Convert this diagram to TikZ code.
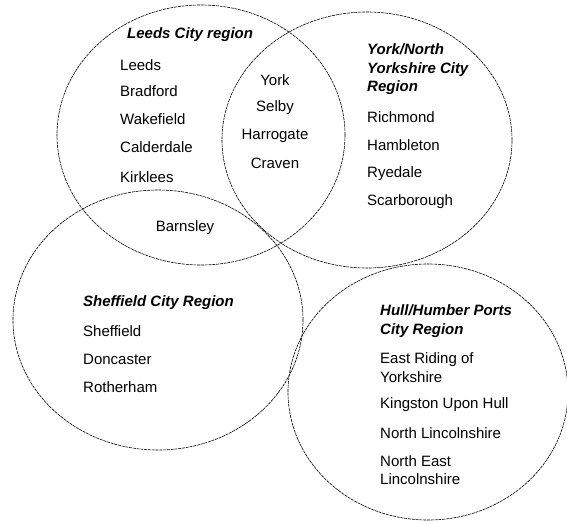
\documentclass[tikz,border=0pt]{standalone}
\usepackage{fontspec}
\setmainfont{Liberation Sans}
\usetikzlibrary{shapes.geometric}

\begin{document}
\begin{tikzpicture}[x=1pt,y=-1pt,
  region/.style={ellipse, draw, line width=0.6pt, dash pattern=on 3pt off 0.8pt, inner sep=0pt},
  every node/.append style={font=\fontsize{15}{18.5}\selectfont},
  title/.style={anchor=west, inner sep=0pt, align=left, font=\fontsize{15}{18.5}\selectfont\bfseries\itshape},
  place/.style={anchor=west, inner sep=0pt, align=left},
  shared/.style={inner sep=0pt}]
  \useasboundingbox (0,0) rectangle (567,523);
  % the four city regions
  \node[region, minimum width=288pt, minimum height=260pt] (leeds) at (201,135) {};
  \node[region, minimum width=290pt, minimum height=256pt] (york) at (367,140) {};
  \node[region, minimum width=290pt, minimum height=260pt] (sheff) at (158,320) {};
  \node[region, minimum width=280pt, minimum height=256pt] (hull) at (428,392) {};
  % Leeds
  \node[title] (leedsT) at (127,35) {Leeds City region};
  \node[place] (leeds1) at (120,65) {Leeds};
  \node[place] (leeds2) at (120,91) {Bradford};
  \node[place] (leeds3) at (120,119) {Wakefield};
  \node[place] (leeds4) at (120,147) {Calderdale};
  \node[place] (leeds5) at (120,177) {Kirklees};
  % Leeds and York
  \node[shared] (both1) at (275,80) {York};
  \node[shared] (both2) at (275,108) {Selby};
  \node[shared] (both3) at (275,136) {Harrogate};
  \node[shared] (both4) at (275,163) {Craven};
  % York/North Yorkshire
  \node[title] (yorkT) at (367,69.5) {York/North\\Yorkshire City\\Region};
  \node[place] (york1) at (367,117) {Richmond};
  \node[place] (york2) at (367,145) {Hambleton};
  \node[place] (york3) at (367,174) {Ryedale};
  \node[place] (york4) at (367,202) {Scarborough};
  % Leeds and Sheffield
  \node[shared] (barns) at (185,228) {Barnsley};
  % Sheffield
  \node[title] (sheffT) at (83,303) {Sheffield City Region};
  \node[place] (sheff1) at (83,331) {Sheffield};
  \node[place] (sheff2) at (83,359) {Doncaster};
  \node[place] (sheff3) at (83,387) {Rotherham};
  % Hull/Humber
  \node[title] (hullT) at (380,321) {Hull/Humber Ports\\City Region};
  \node[place] (hull1) at (380,367.5) {East Riding of\\Yorkshire};
  \node[place] (hull2) at (380,405) {Kingston Upon Hull};
  \node[place] (hull3) at (380,433) {North Lincolnshire};
  \node[place] (hull4) at (380,470) {North East\\Lincolnshire};
\end{tikzpicture}
\end{document}
